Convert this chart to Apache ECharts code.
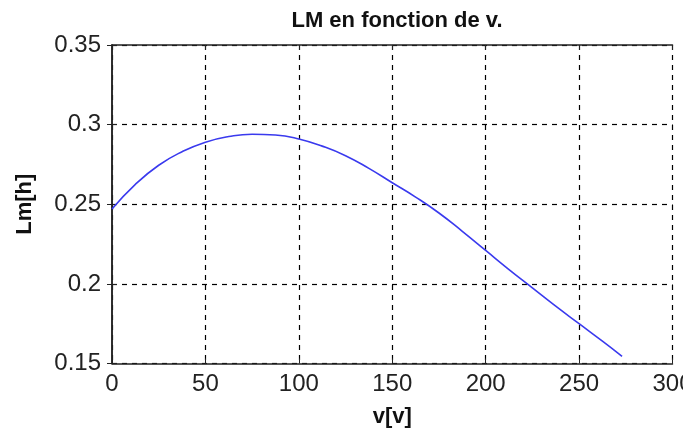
<!DOCTYPE html>
<html>
<head>
<meta charset="utf-8">
<script src="https://cdn.jsdelivr.net/npm/echarts@6/dist/echarts.min.js"></script>
<style>
	html, body {margin: 0; padding: 0; background: #fff;}
	#chart {width: 683px; height: 434px;}
</style>
</head>
<body>
<div id="chart"></div>
<script type="text/javascript">
	// valeurs
	var vValues = [0, 12.5, 25, 37.5, 50, 62.5, 75, 87.5, 100, 112.5, 125, 137.5, 150, 162.5, 175, 187.5, 200, 212.5, 225, 237.5, 250, 262.5, 273];
	var lmValues = [0.247, 0.2625, 0.2745, 0.283, 0.289, 0.2925, 0.294, 0.2935, 0.291, 0.2865, 0.2805, 0.2725, 0.2635, 0.2545, 0.2445, 0.233, 0.221, 0.209, 0.1975, 0.186, 0.175, 0.164, 0.1545];
	var xTicks = [0, 50, 100, 150, 200, 250, 300];
	var yTicks = [0.15, 0.2, 0.25, 0.3, 0.35];

	var points = [];
	for (var i = 0; i < vValues.length; i++) {
		points.push([vValues[i], lmValues[i]]);
	}

	var font = 'Liberation Sans, Arial, sans-serif';
	var gridDash = {show: true, lineStyle: {color: '#000', width: 1.2, type: [5, 5]}};
	var frame = {show: true, lineStyle: {color: '#222', width: 1.5}};

	var chart = echarts.init(document.getElementById('chart'));
	var option = {
		backgroundColor: '#fff',
		animation: false,
		title: {
			text: 'LM en fonction de v.',
			left: 392,
			textAlign: 'center',
			top: 5,
			textStyle: {fontFamily: font, fontSize: 22, fontWeight: 'bold', color: '#111'}
		},
		grid: {left: 112, right: 10.5, top: 45, bottom: 70.5, outerBoundsMode: 'none', containLabel: false},
		xAxis: [{
			type: 'value',
			min: 0,
			max: 300,
			interval: 50,
			axisLine: frame,
			axisTick: {show: true, inside: true, length: 5, lineStyle: {color: '#222'}},
			splitLine: gridDash,
			axisLabel: {
				fontFamily: font, fontSize: 24, color: '#222', margin: 9,
				formatter: function (v) { return xTicks.indexOf(v) >= 0 ? String(v) : ''; }
			},
			name: 'v[v]',
			nameLocation: 'middle',
			nameGap: 42,
			nameTextStyle: {fontFamily: font, fontSize: 22, fontWeight: 'bold', color: '#111'}
		}, {
			type: 'value',
			position: 'top',
			min: 0,
			max: 300,
			interval: 50,
			axisLine: frame,
			axisTick: {show: true, inside: true, length: 5, lineStyle: {color: '#222'}},
			axisLabel: {show: false},
			splitLine: {show: false}
		}],
		yAxis: [{
			type: 'value',
			min: 0.15,
			max: 0.35,
			interval: 0.05,
			axisLine: frame,
			axisTick: {show: true, inside: true, length: 5, lineStyle: {color: '#222'}},
			splitLine: gridDash,
			axisLabel: {
				fontFamily: font, fontSize: 24, color: '#222', margin: 11,
				formatter: function (v) {
					var r = Math.round(v * 100) / 100;
					return yTicks.indexOf(r) >= 0 ? String(r) : '';
				}
			},
			name: 'Lm[h]',
			nameLocation: 'middle',
			nameGap: 76,
			nameTextStyle: {fontFamily: font, fontSize: 22, fontWeight: 'bold', color: '#111'}
		}, {
			type: 'value',
			position: 'right',
			min: 0.15,
			max: 0.35,
			interval: 0.05,
			axisLine: frame,
			axisTick: {show: true, inside: true, length: 5, lineStyle: {color: '#222'}},
			axisLabel: {show: false},
			splitLine: {show: false}
		}],
		series: [{
			type: 'line',
			data: points,
			smooth: true,
			showSymbol: false,
			lineStyle: {color: '#3a3aee', width: 1.6}
		}]
	};
	chart.setOption(option);
</script>
</body>
</html>
